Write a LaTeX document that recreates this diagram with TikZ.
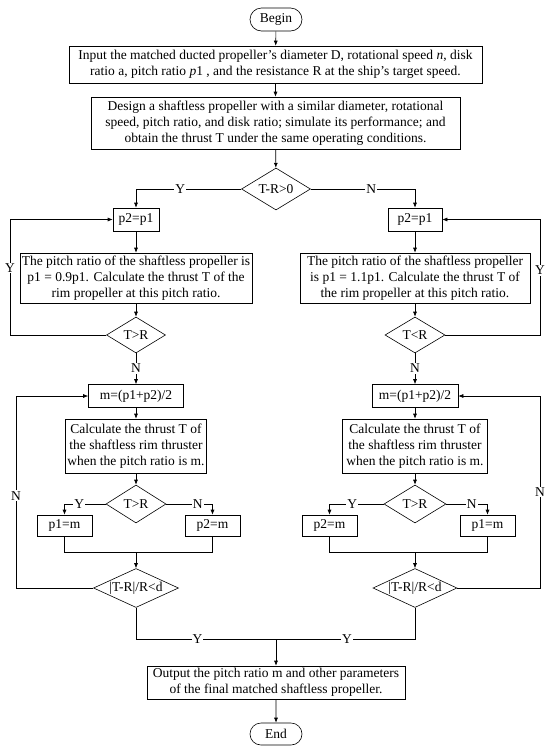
\documentclass[tikz,border=0pt]{standalone}
\usepackage{fontspec}
\setmainfont{Liberation Serif}
\usetikzlibrary{arrows.meta,shapes.geometric,shapes.misc}

\tikzset{
  every node/.style={font=\fontsize{13.5}{16}\selectfont},
  procbox/.style={draw, line width=0.6pt, align=center, inner sep=2pt},
  term/.style={draw, rounded rectangle, line width=0.6pt, minimum width=54pt, minimum height=23pt, inner sep=1pt},
  decision/.style={draw, diamond, shape aspect=2, line width=0.6pt, inner sep=0pt},
  flow/.style={line width=0.6pt, -{Latex[length=5pt,width=4pt]}},
  link/.style={line width=0.6pt},
  yn/.style={fill=white, inner sep=1pt},
}

\begin{document}
\begin{tikzpicture}[x=1pt,y=-1pt]
            \useasboundingbox (0,0) rectangle (550,753);

            %top
            \node[term] (begin) at (276,19.5) {Begin};

            \node[procbox, minimum width=413pt, minimum height=37pt] (input) at (275.5,64.5)
                {Input the matched ducted propeller’s diameter D, rotational speed \textit{n}, disk\\
                 ratio a, pitch ratio \textit{p}1 , and the resistance R at the ship’s target speed.};

            \node[procbox, minimum width=369pt, minimum height=52pt] (design) at (275.5,123)
                {Design a shaftless propeller with a similar diameter, rotational\\
                 speed, pitch ratio, and disk ratio; simulate its performance; and\\
                 obtain the thrust T under the same operating conditions.};

            \node[decision, minimum width=69pt, minimum height=42pt] (d0) at (276,189) {T-R>0};

            \draw[flow] (begin) -- (input);

            \draw[flow] (input) -- (design);

            \draw[flow] (design) -- (d0);

            %left branch
            \node[procbox, minimum width=46pt, minimum height=23pt] (p2L) at (136,219.5) {p2=p1};

            \node[procbox, minimum width=231pt, minimum height=50pt] (thrL) at (136,278)
                {The pitch ratio of the shaftless propeller is\\
                 p1 = 0.9p1. Calculate the thrust T of the\\
                 rim propeller at this pitch ratio.};

            \node[decision, minimum width=59pt, minimum height=36pt] (tL1) at (136,335) {T>R};

            \draw[flow] (d0.west) -| node[yn, pos=0.29] {Y} (p2L.north);

            \draw[flow] (p2L) -- (thrL);

            \draw[flow] (thrL) -- (tL1);

            \draw[flow] (tL1.west) -| node[yn, pos=0.79] {Y} (10,219.5) -- (p2L.west);

            %right branch
            \node[procbox, minimum width=54pt, minimum height=23pt] (p2R) at (415,219.5) {p2=p1};

            \node[procbox, minimum width=230pt, minimum height=50pt] (thrR) at (415,278)
                {The pitch ratio of the shaftless propeller\\
                 is p1 = 1.1p1. Calculate the thrust T of\\
                 the rim propeller at this pitch ratio.};

            \node[decision, minimum width=60pt, minimum height=36pt] (tR1) at (415,335) {T<R};

            \draw[flow] (d0.east) -| node[yn, pos=0.29] {N} (p2R.north);

            \draw[flow] (p2R) -- (thrR);

            \draw[flow] (thrR) -- (tR1);

            \draw[flow] (tR1.east) -| node[yn, pos=0.78] {Y} (540,219.5) -- (p2R.east);

            %left bisection
            \node[procbox, minimum width=95pt, minimum height=23pt] (mL) at (136,396) {m=(p1+p2)/2};

            \node[procbox, minimum width=141pt, minimum height=54pt] (calcL) at (136,446)
                {Calculate the thrust T of\\
                 the shaftless rim thruster\\
                 when the pitch ratio is m.};

            \node[decision, minimum width=60pt, minimum height=38pt] (tL2) at (136,504) {T>R};

            \node[procbox, minimum width=55pt, minimum height=21pt] (p1mL) at (64.5,525.5) {p1=m};

            \node[procbox, minimum width=55pt, minimum height=21pt] (p2mL) at (212.5,525.5) {p2=m};

            \node[decision, minimum width=85pt, minimum height=39pt] (eL) at (136,588) {|T-R|/R<d};

            \coordinate (mgL) at (136,552);

            \draw[flow] (tL1.south) -- node[yn, pos=0.48] {N} (mL.north);

            \draw[flow] (mL) -- (calcL);

            \draw[flow] (calcL) -- (tL2);

            \draw[flow] (tL2.west) -| node[yn, pos=0.32] {Y} (p1mL.north);

            \draw[flow] (tL2.east) -| node[yn, pos=0.34] {N} (p2mL.north);

            \draw[link] (p1mL.south) |- (p2mL.south |- mgL) -- (p2mL.south);

            \draw[flow] (mgL) -- (eL.north);

            \draw[flow] (eL.west) -| node[yn, pos=0.74] {N} (16,396) -- (mL.west);

            %right bisection
            \node[procbox, minimum width=86pt, minimum height=23pt] (mR) at (415,396) {m=(p1+p2)/2};

            \node[procbox, minimum width=145pt, minimum height=54pt] (calcR) at (415,446)
                {Calculate the thrust T of\\
                 the shaftless rim thruster\\
                 when the pitch ratio is m.};

            \node[decision, minimum width=62pt, minimum height=38pt] (tR2) at (415,504) {T>R};

            \node[procbox, minimum width=55pt, minimum height=21pt] (p2mR) at (329.5,525.5) {p2=m};

            \node[procbox, minimum width=55pt, minimum height=21pt] (p1mR) at (487.5,525.5) {p1=m};

            \node[decision, minimum width=84pt, minimum height=39pt] (eR) at (415,588) {|T-R|/R<d};

            \coordinate (mgR) at (415,552);

            \draw[flow] (tR1.south) -- node[yn, pos=0.48] {N} (mR.north);

            \draw[flow] (mR) -- (calcR);

            \draw[flow] (calcR) -- (tR2);

            \draw[flow] (tR2.west) -| node[yn, pos=0.29] {Y} (p2mR.north);

            \draw[flow] (tR2.east) -| node[yn, pos=0.31] {N} (p1mR.north);

            \draw[link] (p2mR.south) |- (p1mR.south |- mgR) -- (p1mR.south);

            \draw[flow] (mgR) -- (eR.north);

            \draw[flow] (eR.east) -| node[yn, pos=0.75] {N} (540,396) -- (mR.east);

            %bottom
            \node[procbox, minimum width=258pt, minimum height=33pt] (out) at (276,682.5)
                {Output the pitch ratio m and other parameters\\
                 of the final matched shaftless propeller.};

            \node[term, minimum height=22pt] (end) at (276,734) {End};

            \coordinate (yj) at (276,639);

            \draw[link] (eL.south) |- node[yn, pos=0.72] {Y} (yj);

            \draw[link] (eR.south) |- node[yn, pos=0.745] {Y} (yj);

            \draw[flow] (yj) -- (out.north);

            \draw[flow] (out) -- (end);
        \end{tikzpicture}
\end{document}
